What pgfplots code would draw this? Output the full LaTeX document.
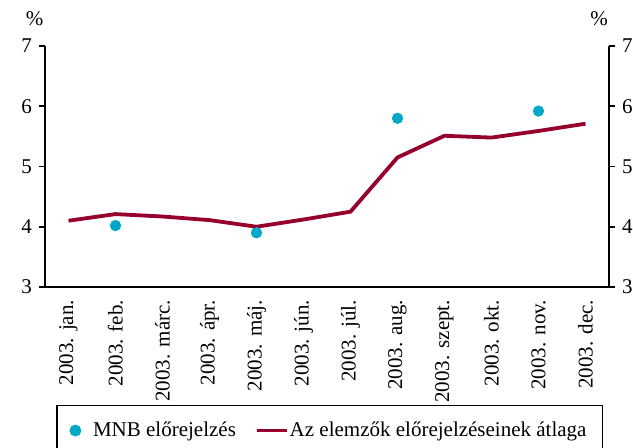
\documentclass[border=0pt]{standalone}
\usepackage{pgfplots}
\pgfplotsset{compat=1.18}
\usepackage{fontspec}
\setmainfont{Liberation Serif}

\definecolor{mnbcyan}{RGB}{0,168,200}
\definecolor{avgred}{RGB}{150,0,45}

\pgfplotstableread{
x y
1 4.10
2 4.21
3 4.17
4 4.11
5 4.00
6 4.12
7 4.25
8 5.15
9 5.51
10 5.48
11 5.59
12 5.71
}\avgdata

\pgfplotstableread{
x y
2 4.02
5 3.90
8 5.80
11 5.92
}\mnbdata

\newcommand{\lblfont}{\fontsize{10.5}{12.5}\selectfont}

\begin{document}
\begin{tikzpicture}
\pgfplotsset{
    every axis/.append style={
        width=282pt, height=120.5pt, scale only axis,
        xmin=0.5, xmax=12.5, ymin=3, ymax=7,
        ytick={3,4,5,6,7},
        tick align=outside,
        major tick length=3pt,
        axis line style={line width=0.9pt},
        every tick/.style={black, line width=0.9pt},
        tick label style={font=\lblfont},
        /pgf/number format/assume math mode=true,
    },
}
\begin{axis}[
    name=main,
    axis x line*=bottom,
    axis y line*=left,
    xtick={1,...,12},
    xticklabels={2003. jan., 2003. feb., 2003. márc., 2003. ápr., 2003. máj., 2003. jún., 2003. júl., 2003. aug., 2003. szept., 2003. okt., 2003. nov., 2003. dec.},
    xticklabel style={rotate=90, anchor=east},
    x tick style={draw=none},
    minor xtick={0.5,1.5,...,12.5},
    minor x tick style={black, line width=0.9pt},
    minor tick length=3.5pt,
    legend columns=2,
    legend style={
        at={(0.505,-0.49)}, anchor=north,
        draw=black, line width=0.7pt,
        font=\lblfont,
        inner xsep=6pt, inner ysep=6pt,
        /tikz/every even column/.append style={column sep=7.5pt},
    },
    legend cell align=left,
]
\addplot[only marks, mark=*, mark size=2.6pt, mnbcyan,
    legend image code/.code={
        \path[draw=none, fill=none] (0,0) -- (0.35cm,0);
        \fill[mnbcyan] (0.11cm,0) circle (2.6pt);
    }] table {\mnbdata};
\addlegendentry{MNB előrejelzés}
\addplot[avgred, line width=1.9pt,
    legend image code/.code={
        \useasboundingbox (0,0) rectangle (13.5pt,0);
        \draw[avgred, line width=1.9pt] (0,0) -- (15pt,0);
    }] table {\avgdata};
\addlegendentry{Az elemzők előrejelzéseinek átlaga}
\end{axis}

\begin{axis}[
    hide x axis,
    axis y line*=right,
]
\end{axis}

\node[font=\lblfont, anchor=base] at ([shift={(-5.2pt,10pt)}]main.north west) {\%};
\node[font=\lblfont, anchor=base] at ([shift={(-5pt,10pt)}]main.north east) {\%};

\pgfresetboundingbox
\path ([shift={(-22.5pt,-80.5pt)}]main.south west) rectangle ([shift={(294pt,143.5pt)}]main.south west);
\end{tikzpicture}
\end{document}
